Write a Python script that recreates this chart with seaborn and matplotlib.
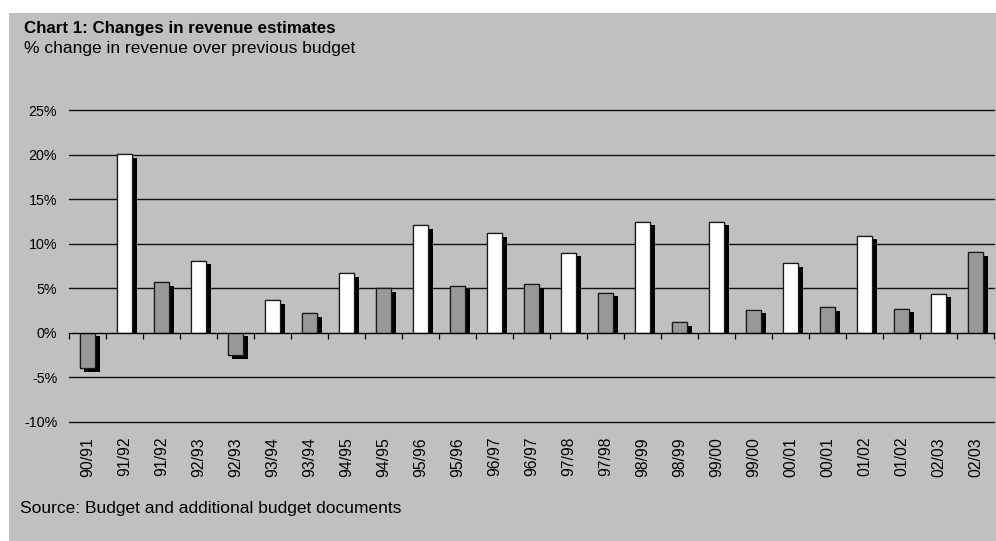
import matplotlib
matplotlib.use("Agg")
import matplotlib.pyplot as plt
import matplotlib.patheffects as pe
from matplotlib.patches import Rectangle
from matplotlib.transforms import Bbox, TransformedBbox
from matplotlib.ticker import FuncFormatter, FixedLocator, NullFormatter
import seaborn as sns
import pandas as pd
import numpy as np

# ---- data ----
years = ["90/91", "91/92", "91/92", "92/93", "92/93", "93/94", "93/94", "94/95", "94/95",
         "95/96", "95/96", "96/97", "96/97", "97/98", "97/98", "98/99", "98/99",
         "99/00", "99/00", "00/01", "00/01", "01/02", "01/02", "02/03", "02/03"]
kinds = ["Additional", "Budget", "Additional", "Budget", "Additional", "Budget", "Additional",
         "Budget", "Additional", "Budget", "Additional", "Budget", "Additional", "Budget",
         "Additional", "Budget", "Additional", "Budget", "Additional", "Budget", "Additional",
         "Budget", "Additional", "Budget", "Additional"]
changes = [-4.0, 20.1, 5.7, 8.1, -2.5, 3.7, 2.2, 6.7, 5.0, 12.1, 5.3, 11.2, 5.5, 9.0, 4.5,
           12.5, 1.2, 12.5, 2.6, 7.8, 2.9, 10.9, 2.7, 4.4, 9.1]
yticks = [-10, -5, 0, 5, 10, 15, 20, 25]

title = "Chart 1: Changes in revenue estimates"
subtitle = "% change in revenue over previous budget"
source = "Source: Budget and additional budget documents"

sns.set_theme(style="white")
plt.rcParams["font.family"] = ["Liberation Sans", "DejaVu Sans"]

W, H = 996, 541
fig = plt.figure(figsize=(W / 100, H / 100), dpi=100, facecolor="white")
bg = "#c0c0c0"
fig.patches.append(Rectangle((9 / W, 0), 1 - 9 / W, 1 - 13 / H, transform=fig.transFigure,
                             facecolor=bg, edgecolor="none", zorder=-10))

left, right = 69 / W, 994 / W
top, bottom = 1 - 110.3 / H, 1 - 421.7 / H
ax = fig.add_axes([left, bottom, right - left, top - bottom])
ax.set_facecolor("none")
ax.set_zorder(1)

df = pd.DataFrame({"pos": np.arange(len(years)), "year": years, "kind": kinds, "change": changes})
sns.barplot(data=df, x="pos", y="change", hue="kind",
            palette={"Budget": "#ffffff", "Additional": "#999999"},
            dodge=False, width=0.43, edgecolor="#1a1a1a", linewidth=0.9,
            legend=False, ax=ax, zorder=3)

ax.set_xlim(-0.5, len(years) - 0.5)
ax.set_ylim(min(yticks), max(yticks))

# shadows, clipped at the zero line (like the original 3-D style shadow)
pos_clip = TransformedBbox(Bbox([[-1, 0], [len(years) + 1, max(yticks)]]), ax.transData)
neg_clip = TransformedBbox(Bbox([[-1, min(yticks)], [len(years) + 1, 0]]), ax.transData)
for p in ax.patches:
    p.set_path_effects([pe.withSimplePatchShadow(offset=(3.0, -2.7), shadow_rgbFace="black",
                                                 alpha=1.0), pe.Normal()])
    p.set_clip_box(pos_clip if p.get_height() >= 0 else neg_clip)

ax.set_yticks(yticks)
ax.yaxis.set_major_formatter(FuncFormatter(lambda v, _: f"{v:.0f}%"))
ax.set_xticks(np.arange(len(years)))
ax.set_xticklabels(years, rotation=90)
ax.tick_params(axis="x", length=0, pad=11, labelsize=11.3, colors="black")
ax.tick_params(axis="y", length=0, pad=8.5, labelsize=10.3, colors="black")
ax.set_xlabel("")
ax.set_ylabel("")
for s in ax.spines.values():
    s.set_visible(False)
for v in yticks:
    if v != 0:
        ax.axhline(v, color="#111111", lw=1.0, zorder=1, clip_on=False)

# zero axis with tick marks at category boundaries
sec = ax.secondary_xaxis((0 - min(yticks)) / (max(yticks) - min(yticks)))
sec.xaxis.set_major_locator(FixedLocator(list(np.arange(len(years) + 1) - 0.5)))
sec.xaxis.set_major_formatter(NullFormatter())
sec.tick_params(axis="x", direction="out", length=4.5, width=0.9, color="black")
sec.spines["bottom"].set_color("black")
sec.spines["bottom"].set_linewidth(1.0)
sec.set_zorder(4)

fig.text(24 / W, 1 - 33 / H, title, fontsize=12.2, fontweight="bold", color="black",
         ha="left", va="baseline")
fig.text(24 / W, 1 - 53.5 / H, subtitle, fontsize=12.5, color="black", ha="left", va="baseline")
fig.text(20 / W, 1 - 513 / H, source, fontsize=12.5, color="black", ha="left", va="baseline")

fig.savefig("out.png", dpi=100, facecolor="white")
